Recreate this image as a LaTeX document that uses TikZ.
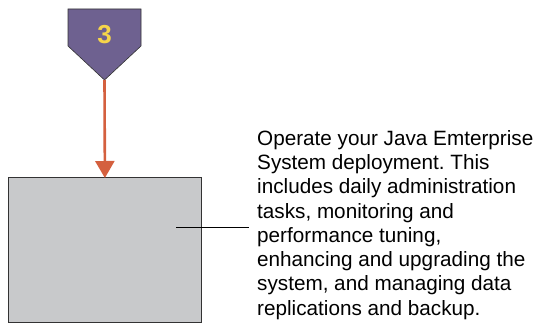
\documentclass[tikz,border=0pt]{standalone}
\usepackage{fontspec}
\setmainfont{Liberation Sans}
\usetikzlibrary{arrows.meta}
\definecolor{stepviolet}{HTML}{6E6190}
\definecolor{stepyellow}{HTML}{F6D54A}
\definecolor{flowred}{HTML}{D4603F}
\definecolor{boxgray}{HTML}{C8C9CB}
\tikzset{
	badge/.style = {fill = stepviolet, draw = black!80, line width = .6pt},
	flow/.style = {draw = flowred, line width = 2.6pt, -{Triangle[length = 17pt, width = 19pt]}, shorten >= -1pt},
	phase/.style = {draw = black!80, fill = boxgray, line width = .8pt, minimum width = 193pt, minimum height = 145pt, inner sep = 0pt}
}
\frenchspacing
\begin{document}
\begin{tikzpicture}[x = 1pt, y = -1pt]
					\useasboundingbox (0,0) rectangle (536,326);
					\draw[badge] (68,9)--(141,9)--(141,46)--(104.5,80)--(68,46)--cycle;
					\coordinate (tip) at (104.5,80);
					\node[text = stepyellow, font = \bfseries\fontsize{26}{26}\selectfont] (num) at (104.5,35) {3};
					\node[phase, anchor = north west] (op) at (8,177) {};
					\draw[flow] (tip)--(op.north);
					\coordinate (lead) at (176,227);
					\node[anchor = north west, align = left, inner sep = 0pt, font = \fontsize{20.7}{24.3}\selectfont] (desc) at (257,130)
						{Operate your Java Emterprise\\ System deployment. This\\ includes daily administration\\ tasks, monitoring and\\ performance tuning,\\ enhancing and upgrading the\\ system, and managing data\\ replications and backup.};
					\draw[line width = .8pt] (lead)--(249,227);
				\end{tikzpicture}
\end{document}
